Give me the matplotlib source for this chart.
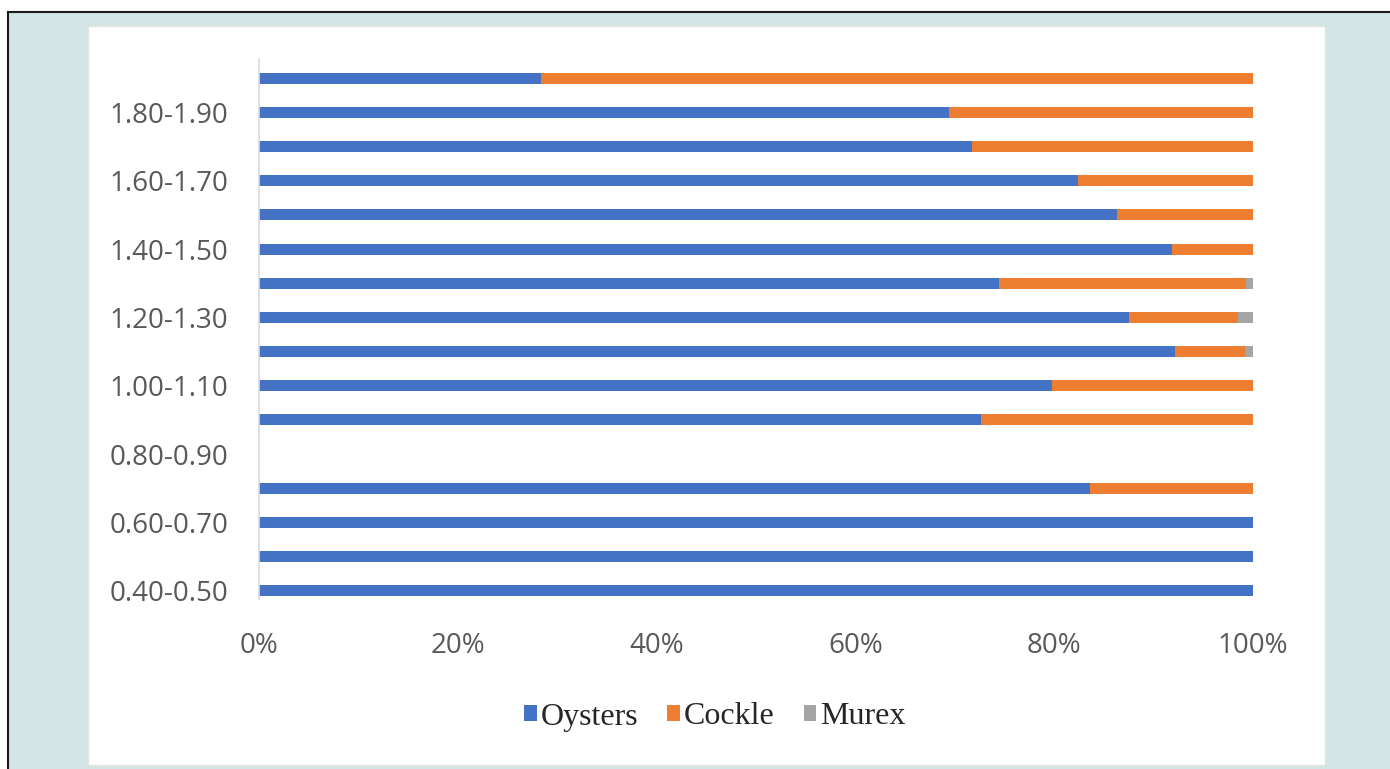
import matplotlib
matplotlib.use("Agg")
import matplotlib.pyplot as plt
from matplotlib.patches import Rectangle
import numpy as np

categories = ["0.40-0.50", "0.50-0.60", "0.60-0.70", "0.70-0.80", "0.80-0.90",
              "0.90-1.00", "1.00-1.10", "1.10-1.20", "1.20-1.30", "1.30-1.40",
              "1.40-1.50", "1.50-1.60", "1.60-1.70", "1.70-1.80", "1.80-1.90",
              "1.90-2.00"]
oysters = [100, 100, 100, 83.6, 0, 72.6, 79.8, 92.2, 87.5, 74.4,
           91.9, 86.3, 82.4, 71.7, 69.4, 28.4]
cockle = [0, 0, 0, 16.4, 0, 27.4, 20.2, 7.0, 11.0, 24.9,
          8.1, 13.7, 17.6, 28.3, 30.6, 71.6]
murex = [0, 0, 0, 0, 0, 0, 0, 0.8, 1.5, 0.7,
         0, 0, 0, 0, 0, 0]
xticks = [0, 20, 40, 60, 80, 100]
xticklabels = ["0%", "20%", "40%", "60%", "80%", "100%"]

W, H = 1390, 769
fig = plt.figure(figsize=(W / 100, H / 100), dpi=100)
fig.patch.set_facecolor("white")

# outer teal frame with black border (top/left)
fig.patches.append(Rectangle((8 / W, 0), 1 - 8 / W, 1 - 12 / H, transform=fig.transFigure,
                             facecolor="#d3e5e4", edgecolor="none", zorder=0))
fig.add_artist(plt.Line2D([8 / W, 1], [1 - 12 / H, 1 - 12 / H], transform=fig.transFigure,
                          color="#1a1a1a", lw=1.5))
fig.add_artist(plt.Line2D([8 / W, 8 / W], [0, 1 - 12 / H], transform=fig.transFigure,
                          color="#1a1a1a", lw=1.5))
# white chart panel
fig.patches.append(Rectangle((88 / W, 4 / H), (1325 - 88) / W, (765 - 26) / H,
                             transform=fig.transFigure, facecolor="white",
                             edgecolor="#e4e4e4", lw=1, zorder=0.5))

left, right = 259 / W, 1253 / W
bottom, top = 1 - 608 / H, 1 - 61 / H
ax = fig.add_axes([left, bottom, right - left, top - bottom])
ax.set_facecolor("none")
ax.set_zorder(2)

y = np.arange(len(categories))
oy = np.array(oysters)
co = np.array(cockle)
mu = np.array(murex)
h = 0.32
ax.barh(y, oy, height=h, color="#4472c4", label="Oysters")
ax.barh(y, co, left=oy, height=h, color="#ed7d31", label="Cockle")
ax.barh(y, mu, left=oy + co, height=h, color="#a5a5a5", label="Murex")

ax.set_xlim(0, 100)
ax.set_ylim(-0.5, len(categories) - 0.5)
ax.set_xticks(xticks)
ax.set_xticklabels(xticklabels)
ax.set_yticks(y)
ax.set_yticklabels([c if i % 2 == 0 else "" for i, c in enumerate(categories)])

for s in ["top", "right", "bottom"]:
    ax.spines[s].set_visible(False)
ax.spines["left"].set_color("#d9d9d9")
ax.spines["left"].set_linewidth(1.2)
ax.spines["left"].set_bounds(-0.25, len(categories) - 0.45)
ax.tick_params(axis="both", length=0, labelcolor="#595959", labelsize=20)
ax.tick_params(axis="y", pad=22)
ax.tick_params(axis="x", pad=17)
for lab in ax.get_xticklabels() + ax.get_yticklabels():
    lab.set_family("Open Sans")

leg = fig.legend(loc="center", bbox_to_anchor=(715 / W, 1 - 717 / H), ncol=3,
                 frameon=False, handlelength=0.4, handleheight=0.4,
                 handletextpad=0.12, columnspacing=0.9,
                 prop={"family": "Liberation Serif", "size": 23})
leg.set_zorder(3)
for t in leg.get_texts():
    t.set_color("#262626")

fig.savefig("out.png", dpi=100, facecolor=fig.get_facecolor())
